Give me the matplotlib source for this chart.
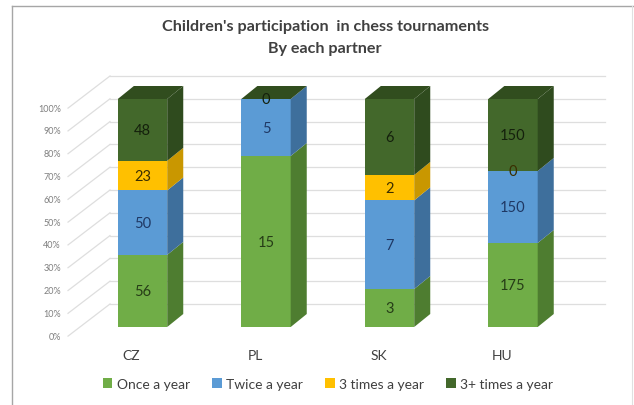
import numpy as np
import matplotlib
matplotlib.use("Agg")
import matplotlib.pyplot as plt
from matplotlib.patches import Polygon, Patch
from matplotlib.lines import Line2D

plt.rcParams['font.family'] = ['Lato', 'DejaVu Sans']

# data
partners = ['CZ', 'PL', 'SK', 'HU']
series = ['Once a year', 'Twice a year', '3 times a year', '3+ times a year']
once = [56, 15, 3, 175]
twice = [50, 5, 7, 150]
three = [23, np.nan, 2, 0]
three_plus = [48, 0, 6, 150]
yticks = [0, 10, 20, 30, 40, 50, 60, 70, 80, 90, 100]

front = ['#70ad47', '#5b9bd5', '#ffc000', '#43682b']
side = ['#4e7d30', '#3e6f9c', '#c99700', '#2f4b1e']
top_col = '#314d1e'
txt = ['#263d17', '#1f3864', '#3a2e00', '#14200c']

vals = np.array([once, twice, three, three_plus], dtype=float)
shown = ~np.isnan(vals)
vals = np.nan_to_num(vals)
pct = vals / vals.sum(axis=0) * 100

fig = plt.figure(figsize=(6.34, 4.06), dpi=100)
ax = fig.add_axes([0, 0, 1, 1])
ax.set_xlim(-1.1538, 3.9798)
ax.set_ylim(-34.21, 143.86)
ax.axis('off')

# fake 3d walls: side wall diagonals + back wall lines
fx, fdy = -0.603, -4.0
bx, bdy = -0.263, 10.1
for k in yticks:
    ax.plot([fx, bx], [k + fdy, k + bdy], color='#dedede', lw=0.9, zorder=1)
    ax.plot([bx, 3.745], [k + bdy, k + bdy], color='#dedede', lw=0.9, zorder=1)
    ax.text(-0.66, k + fdy, '%d%%' % k, ha='right', va='center',
            fontsize=6.5, color='#7f7f7f')

w = 0.4
dx, dy = 0.13, 5.7
x = np.arange(len(partners))
bottom = np.zeros(len(partners))
for s in range(len(series)):
    ax.bar(x, pct[s], w, bottom=bottom, color=front[s], zorder=3)
    for i in range(len(partners)):
        b, t = bottom[i], bottom[i] + pct[s, i]
        r = x[i] + w / 2
        if t > b:
            ax.add_patch(Polygon([(r, b), (r + dx, b + dy), (r + dx, t + dy), (r, t)],
                                 closed=True, fc=side[s], ec='none', zorder=3))
        if shown[s, i]:
            ax.text(x[i], (b + t) / 2, '%d' % vals[s, i], ha='center', va='center',
                    fontsize=10.5, color=txt[s], zorder=5)
    bottom += pct[s]

for i in range(len(partners)):
    l, r = x[i] - w / 2, x[i] + w / 2
    ax.add_patch(Polygon([(l, 100), (l + dx, 100 + dy), (r + dx, 100 + dy), (r, 100)],
                         closed=True, fc=top_col, ec='none', zorder=3))
    ax.text(x[i] - 0.09, -12.3, partners[i], ha='center', va='center',
            fontsize=10, color='#404040')

fig.text(0.513, 0.933, "Children's participation  in chess tournaments",
         ha='center', va='center', fontsize=11.6, fontweight='bold', color='#404040')
fig.text(0.513, 0.88, 'By each partner',
         ha='center', va='center', fontsize=11.6, fontweight='bold', color='#404040')

handles = [Patch(fc=c, ec='none') for c in front]
fig.legend(handles, series, loc='center', bbox_to_anchor=(0.517, 0.052), ncol=4,
           frameon=False, fontsize=10, handlelength=0.7, handleheight=0.7,
           handletextpad=0.3, columnspacing=1.6, labelcolor='#404040')

# outer frame
fig.add_artist(Line2D([12 / 634, 12 / 634], [0, 1 - 7 / 406], color='#a6a6a6', lw=1))
fig.add_artist(Line2D([12 / 634, 1], [1 - 7 / 406, 1 - 7 / 406], color='#a6a6a6', lw=1))
fig.add_artist(Line2D([632 / 634, 632 / 634], [0, 1 - 7 / 406], color='#e0e0e0', lw=0.8))

fig.savefig('out.png', dpi=100)
